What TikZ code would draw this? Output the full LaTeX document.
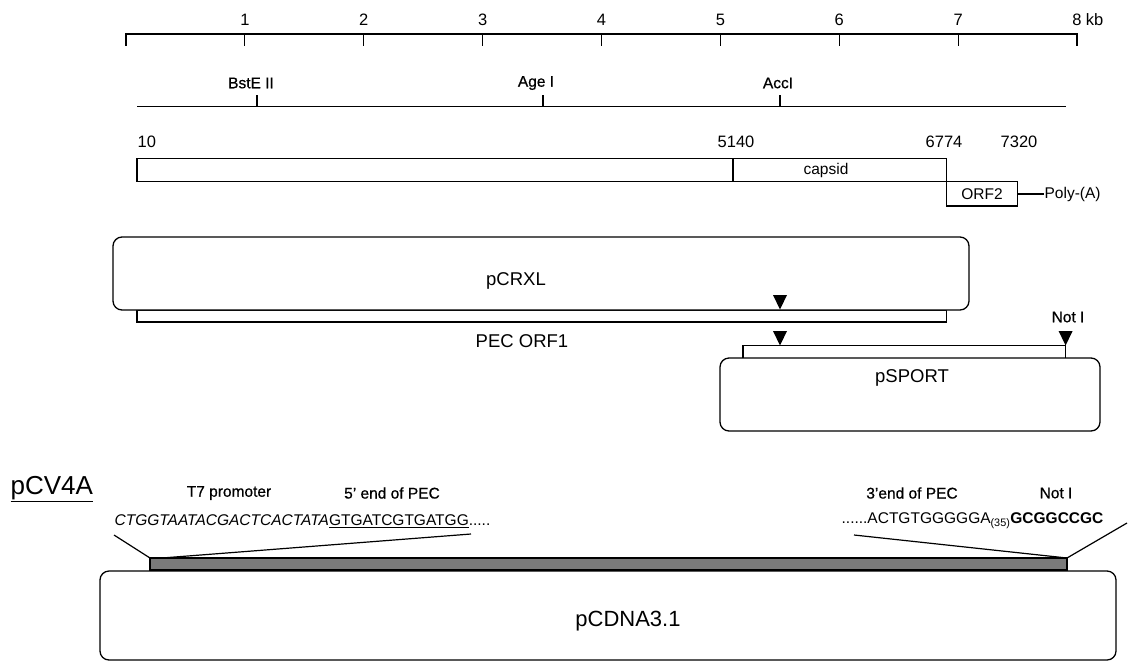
\documentclass[tikz,border=0pt]{standalone}
\usepackage{fontspec}
\setmainfont{Liberation Sans}
\newfontfamily\mediumsans[FakeBold=0.7]{Liberation Sans}
\newcommand\myfs[1]{\fontsize{#1}{#1}\selectfont}
\begin{document}
\begin{tikzpicture}[x=1pt,y=-1pt,line width=1.2pt,
  lbl/.style={inner sep=0pt,font=\myfs{15.5}},
  hlbl/.style={inner sep=0pt,font=\myfs{15.5}\mediumsans},
  num/.style={inner sep=0pt,font=\myfs{16.5}},
  big/.style={inner sep=0pt,font=\myfs{18.5}},
  vbox/.style={draw,rounded corners=9pt,line width=1.3pt},
  plain/.style={draw,line width=1.2pt},
  tri/.style={fill=black},
  graybar/.style={draw,fill=black!52,line width=1.2pt}]
\useasboundingbox (0,0) rectangle (1129,662);

% kb scale
\draw[plain] (126,34) -- (1077,34);
\foreach \k in {0,...,8} \draw[plain] (126+\k*118.875,33.4) -- ++(0,13);
\foreach \k in {1,...,7} \node[num] (t\k) at (126+\k*118.875,20) {\k};
\node[num] (t8) at (1077,20) {8};
\node[num,anchor=west] (kb) at ([xshift=3pt]t8.east) {kb};

% restriction map
\draw[plain] (137,106.5) -- (1066,106.5);
\foreach \x in {257,543,780} \draw[plain] (\x,106.5) -- (\x,95);
\node[hlbl] (bste) at (251,83) {BstE II};
\node[hlbl] (agei) at (536,83) {Age I};
\node[hlbl] (acci) at (778,83) {AccI};

% genome
\draw[plain] (137,158.3) rectangle (946.7,181.7);
\draw[plain] (733,158.3) -- (733,181.7);
\draw[plain] (946.7,181.7) rectangle (1017.7,206);
\node[lbl] (capsid) at (826,170) {capsid};
\node[lbl] (orf2) at (982,194) {ORF2};
\node[lbl,anchor=west] (polya) at (1044,194) {Poly-(A)};
\draw[plain] (1017.7,194) -- (polya.west);
\node[num,anchor=west] (p10) at (137,142) {10};
\node[num] (p5140) at (736,142) {5140};
\node[num] (p6774) at (944,142) {6774};
\node[num] (p7320) at (1019,142) {7320};

% pCRXL
\draw[plain] (137,310) rectangle (946.5,322);
\draw[vbox,fill=white] (113,237) rectangle (969,310);
\node[big] (pcrxl) at (516,281) {pCRXL};
\node[big] (pecorf) at (522,341) {PEC ORF1};
\fill[tri] (773,295) -- (787,295) -- (780,309.5) -- cycle;

% pSPORT
\draw[plain] (743,358) -- (743,345.5) -- (1065.6,345.5) -- (1065.6,358);
\draw[vbox] (720,358) rectangle (1100,431);
\node[big] (psport) at (912,378) {pSPORT};
\fill[tri] (773,331) -- (787,331) -- (780,345.5) -- cycle;
\fill[tri] (1058.6,331) -- (1072.6,331) -- (1065.6,345.5) -- cycle;
\node[hlbl] (noti1) at (1068,317) {Not I};

% pCV4A
\node[inner sep=0pt,anchor=west,font=\myfs{26}] (pcv) at (10,489) {\underline{pCV4A}};
\node[hlbl] (t7) at (229,493) {T7 promoter};
\node[hlbl] (fiveend) at (392,493) {5’ end of PEC};
\node[lbl,anchor=west] (seqL) at (114,521) {\itshape CTGGTAATACGACTCACTATA\upshape\underline{GTGATCGTGATGG}.....};
\node[hlbl] (threeend) at (912,493) {3’end of PEC};
\node[hlbl] (noti2) at (1056,493) {Not I};
\node[lbl,anchor=east] (seqR) at (1104,521) {......ACTGTGGGGGA\textsubscript{(35)}\textbf{GCGGCCGC}};

\draw[vbox] (100,571) rectangle (1116,660);
\node[inner sep=0pt,font=\myfs{22}] (pcdna) at (628,621) {pCDNA3.1};
\draw[graybar] (150,558) rectangle (1067,570);
\coordinate (barTL) at (150,558);
\coordinate (barTR) at (1067,558);
\coordinate (l1) at (114,535);
\coordinate (l2) at (471,534);
\coordinate (l3) at (854,535);
\coordinate (l4) at (1127,523);
\draw[plain] (l1) -- (barTL);
\draw[plain] (l2) -- ([xshift=12pt]barTL);
\draw[plain] (l3) -- (barTR);
\draw[plain] (barTR) -- (l4);
\end{tikzpicture}
\end{document}
